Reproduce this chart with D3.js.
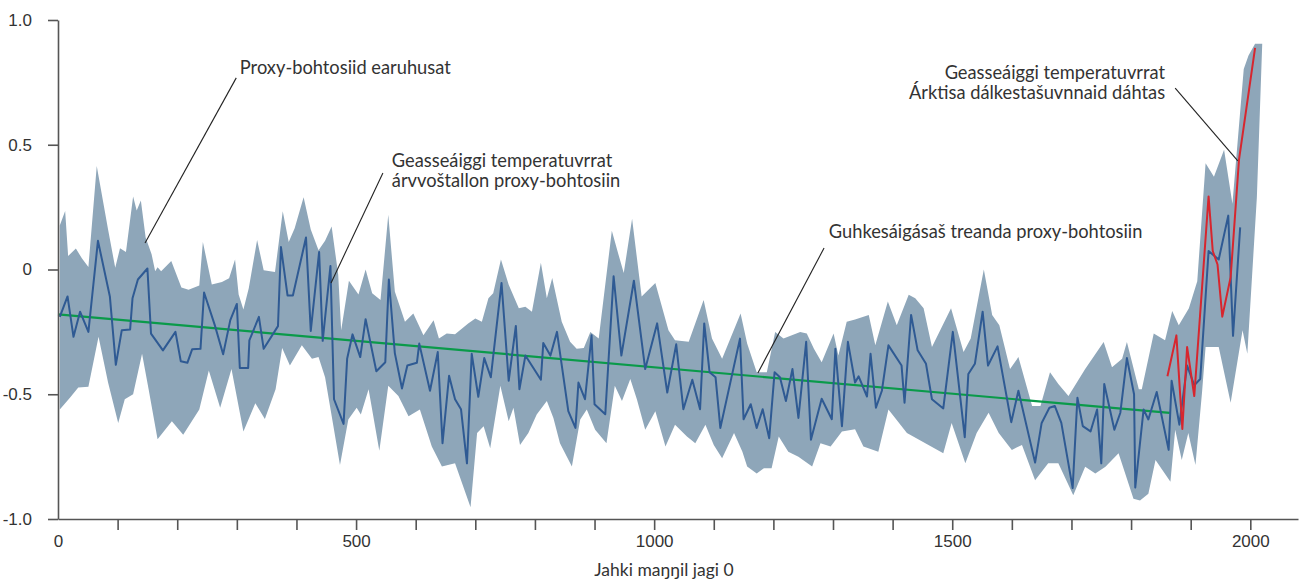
<!DOCTYPE html>
<html>
<head>
<meta charset="utf-8">
<script src="https://cdn.jsdelivr.net/npm/d3@7"></script>
<style>
  body { margin: 0; background: #fff; }
  svg { display: block; font-family: Lato, "Open Sans", sans-serif; }
  .axis text { font-size: 17px; fill: #333; }
  .axis path, .axis line { stroke: #555; stroke-width: 1.6; }
  .note { font-size: 18.3px; fill: #333; }
</style>
</head>
<body>
<svg id="chart" width="1300" height="582"></svg>
<script>
// proxy reconstruction, [year, anomaly]
const proxy = [[3,-0.19],[16,-0.108],[26,-0.27],[37,-0.169],[51,-0.25],[67,0.115],[87,-0.108],[97,-0.382],
  [107,-0.243],[121,-0.24],[125,-0.115],[134,-0.04],[150,0.004],[156,-0.257],[176,-0.324],[197,-0.25],
  [206,-0.368],[217,-0.374],[225,-0.32],[239,-0.318],[245,-0.092],[263,-0.223],[277,-0.34],[289,-0.203],
  [300,-0.138],[305,-0.395],[319,-0.395],[321,-0.284],[337,-0.19],[345,-0.318],[369,-0.227],[374,0.09],
  [385,-0.104],[394,-0.104],[416,0.128],[424,-0.246],[438,0.07],[444,-0.286],[457,0.014],[463,-0.52],
  [479,-0.619],[485,-0.358],[494,-0.26],[507,-0.351],[516,-0.199],[534,-0.408],[549,-0.372],[555,-0.04],
  [565,-0.335],[577,-0.477],[586,-0.385],[602,-0.374],[606,-0.297],[624,-0.486],[637,-0.331],[645,-0.696],
  [656,-0.426],[666,-0.52],[676,-0.56],[686,-0.777],[694,-0.338],[705,-0.51],[715,-0.355],[726,-0.432],
  [744,-0.054],[756,-0.446],[768,-0.226],[774,-0.48],[784,-0.345],[810,-0.442],[814,-0.295],[826,-0.345],
  [837,-0.25],[856,-0.568],[868,-0.635],[873,-0.453],[884,-0.52],[895,-0.264],[900,-0.54],[918,-0.58],
  [932,-0.027],[945,-0.345],[966,-0.045],[985,-0.399],[1005,-0.216],[1022,-0.493],[1037,-0.3],[1049,-0.56],
  [1064,-0.442],[1077,-0.56],[1084,-0.216],[1093,-0.412],[1103,-0.432],[1111,-0.635],[1144,-0.277],[1150,-0.6],
  [1162,-0.54],[1172,-0.635],[1182,-0.56],[1193,-0.676],[1202,-0.412],[1211,-0.432],[1221,-0.527],[1232,-0.399],
  [1242,-0.595],[1255,-0.29],[1263,-0.682],[1281,-0.518],[1298,-0.6],[1304,-0.318],[1315,-0.628],[1325,-0.29],
  [1337,-0.453],[1343,-0.428],[1357,-0.509],[1363,-0.338],[1372,-0.554],[1382,-0.486],[1393,-0.304],[1415,-0.385],
  [1420,-0.534],[1431,-0.182],[1442,-0.324],[1456,-0.378],[1466,-0.52],[1485,-0.557],[1501,-0.25],[1521,-0.672],
  [1527,-0.419],[1538,-0.378],[1551,-0.169],[1560,-0.385],[1576,-0.308],[1599,-0.612],[1611,-0.486],[1639,-0.774],
  [1650,-0.615],[1663,-0.554],[1672,-0.547],[1683,-0.615],[1702,-0.876],[1710,-0.514],[1719,-0.628],[1732,-0.649],
  [1743,-0.561],[1750,-0.777],[1755,-0.459],[1772,-0.642],[1782,-0.574],[1793,-0.355],[1805,-0.5],[1807,-0.874],
  [1821,-0.561],[1829,-0.601],[1843,-0.491],[1863,-0.723],[1868,-0.446],[1881,-0.622],[1894,-0.385],[1906,-0.464],
  [1916,-0.439],[1930,0.074],[1947,0.04],[1963,0.216],[1971,-0.266],[1983,0.169]]

// upper edge of the proxy spread
const bandUpper = [[3,0.176],[12,0.234],[17,0.054],[30,0.084],[40,0.045],[51,0.01],[65,0.415],[84,0.16],
  [96,0.007],[104,0.085],[114,0.07],[126,0.293],[132,0.236],[139,0.277],[147,0.128],[157,0.061],[163,-0.007],
  [167,0.009],[173,-0.007],[190,0.034],[207,-0.072],[219,-0.081],[237,-0.064],[243,0.11],[258,-0.06],
  [275,-0.05],[287,-0.035],[297,0.04],[303,-0.1],[311,-0.16],[320,-0.075],[334,0.118],[345,-0.003],
  [364,-0.01],[377,0.233],[387,0.11],[397,0.165],[412,0.29],[424,0.16],[437,0.077],[448,0.115],[459,0.172],
  [470,-0.02],[475,-0.243],[488,-0.045],[504,-0.1],[516,0.0],[527,-0.095],[541,-0.122],[554,0.219],
  [565,-0.088],[582,-0.209],[596,-0.176],[613,-0.264],[630,-0.203],[639,-0.277],[652,-0.257],[666,-0.26],
  [688,-0.216],[700,-0.196],[711,-0.209],[722,-0.115],[730,-0.095],[743,0.04],[756,-0.061],[773,-0.155],
  [784,-0.149],[795,-0.169],[810,0.027],[820,-0.115],[829,-0.034],[845,-0.209],[859,-0.29],[870,-0.318],
  [882,-0.315],[893,-0.25],[907,-0.277],[929,0.155],[940,0.061],[949,-0.014],[963,0.203],[979,-0.108],
  [1002,-0.054],[1024,-0.243],[1035,-0.284],[1058,-0.29],[1083,-0.122],[1097,-0.277],[1114,-0.358],
  [1145,-0.176],[1156,-0.297],[1172,-0.412],[1189,-0.412],[1203,-0.25],[1217,-0.277],[1231,-0.264],
  [1245,-0.25],[1256,-0.257],[1268,-0.318],[1281,-0.372],[1301,-0.257],[1309,-0.345],[1323,-0.209],
  [1337,-0.2],[1360,-0.182],[1371,-0.304],[1392,-0.128],[1407,-0.223],[1427,-0.101],[1438,-0.115],
  [1452,-0.155],[1466,-0.311],[1498,-0.155],[1519,-0.331],[1531,-0.277],[1553,0.0],[1567,-0.182],
  [1579,-0.223],[1597,-0.399],[1611,-0.351],[1634,-0.547],[1648,-0.547],[1664,-0.412],[1678,-0.459],
  [1695,-0.507],[1723,-0.399],[1754,-0.291],[1768,-0.392],[1785,-0.358],[1793,-0.291],[1813,-0.48],
  [1818,-0.48],[1838,-0.257],[1857,-0.284],[1869,-0.166],[1880,-0.223],[1897,-0.155],[1911,-0.047],
  [1925,0.426],[1939,0.372],[1956,0.48],[1970,0.264],[1989,0.804],[1997,0.858],[2008,0.905],[2016,0.905]]

// lower edge of the proxy spread
const bandLower = [[3,-0.561],[20,-0.514],[34,-0.473],[51,-0.47],[68,-0.27],[84,-0.453],[101,-0.615],
  [112,-0.52],[126,-0.5],[141,-0.338],[152,-0.48],[167,-0.68],[191,-0.608],[210,-0.662],[237,-0.561],
  [253,-0.405],[272,-0.554],[291,-0.399],[311,-0.649],[331,-0.536],[347,-0.599],[365,-0.48],[376,-0.315],
  [389,-0.385],[409,-0.304],[426,-0.358],[437,-0.351],[448,-0.432],[462,-0.628],[473,-0.784],[487,-0.601],
  [501,-0.554],[508,-0.581],[521,-0.48],[539,-0.726],[554,-0.466],[571,-0.507],[588,-0.588],[607,-0.561],
  [627,-0.709],[644,-0.79],[666,-0.777],[692,-0.953],[703,-0.655],[714,-0.628],[725,-0.716],[742,-0.466],
  [756,-0.608],[764,-0.554],[775,-0.703],[789,-0.655],[803,-0.581],[820,-0.527],[831,-0.595],[842,-0.696],
  [862,-0.79],[876,-0.601],[887,-0.561],[901,-0.642],[920,-0.696],[934,-0.466],[946,-0.527],[960,-0.439],
  [971,-0.52],[985,-0.642],[1002,-0.568],[1019,-0.709],[1035,-0.622],[1055,-0.669],[1069,-0.696],
  [1086,-0.622],[1100,-0.703],[1114,-0.757],[1134,-0.655],[1148,-0.73],[1156,-0.79],[1172,-0.818],
  [1184,-0.797],[1197,-0.797],[1209,-0.669],[1225,-0.73],[1242,-0.75],[1265,-0.79],[1279,-0.696],
  [1296,-0.709],[1315,-0.649],[1337,-0.64],[1351,-0.709],[1376,-0.73],[1393,-0.561],[1424,-0.655],
  [1485,-0.736],[1499,-0.615],[1522,-0.777],[1541,-0.655],[1561,-0.574],[1578,-0.655],[1600,-0.723],
  [1617,-0.703],[1639,-0.845],[1661,-0.777],[1678,-0.777],[1703,-0.905],[1723,-0.791],[1740,-0.818],
  [1757,-0.791],[1779,-0.736],[1804,-0.919],[1815,-0.926],[1829,-0.899],[1841,-0.764],[1866,-0.851],
  [1874,-0.642],[1885,-0.764],[1896,-0.655],[1908,-0.784],[1919,-0.493],[1925,-0.311],[1947,-0.311],
  [1967,-0.534],[1987,-0.243],[1995,-0.338],[2011,0.29],[2020,0.905]]

// instrumental record from arctic stations
const stations = [[1861,-0.428],[1876,-0.264],[1886,-0.639],[1894,-0.311],[1906,-0.507],[1930,0.293],
  [1937,0.074],[1945,0.02],[1953,-0.189],[1967,-0.031],[1981,0.439],[2008,0.888]]

// long-term linear trend
const trend = [[0,-0.18],[1865,-0.575]]

const yTicks = [-1, -0.5, 0, 0.5, 1]
const yLabels = ["-1.0", "-0.5", "0", "0.5", "1.0"]
const xTicks = d3.range(0, 2001, 100)
const xLabels = [0, 500, 1000, 1500, 2000]

// annotations: text position and leader line, in data units
const notes = [
  {lines: ["Proxy-bohtosiid earuhusat"], at: [305, 0.784], anchor: "start", from: [299, 0.768], to: [146, 0.106]},
  {lines: ["Geasseáiggi temperatuvrrat", "árvvoštallon proxy-bohtosiin"], at: [560, 0.411], anchor: "start", from: [545, 0.387], to: [458, -0.054]},
  {lines: ["Guhkesáigásaš treanda proxy-bohtosiin"], at: [1293, 0.126], anchor: "start", from: [1285, 0.086], to: [1174, -0.415]},
  {lines: ["Geasseáiggi temperatuvrrat", "Árktisa dálkestašuvnnaid dáhtas"], at: [1857, 0.764], anchor: "end", from: [1874, 0.727], to: [1979, 0.435]}
]

const svg = d3.select("#chart")
const x = d3.scaleLinear().domain([0, 2080]).range([58, 1298])
const y = d3.scaleLinear().domain([-1, 1]).range([519, 20])

const line = d3.line().x(d => x(d[0])).y(d => y(d[1]))

// spread band
let band = bandUpper.concat(bandLower.slice().reverse())
svg.append("path")
  .attr("d", d3.line().x(d => x(d[0])).y(d => y(d[1])).curve(d3.curveLinearClosed)(band))
  .attr("fill", "#8ea6b9")

svg.append("path").datum(trend).attr("d", line)
  .attr("fill", "none").attr("stroke", "#0a9a4a").attr("stroke-width", 2.2)

svg.append("path").datum(proxy).attr("d", line)
  .attr("fill", "none").attr("stroke", "#2f5a93").attr("stroke-width", 2).attr("stroke-linejoin", "round")

svg.append("path").datum(stations).attr("d", line)
  .attr("fill", "none").attr("stroke", "#d7262e").attr("stroke-width", 2).attr("stroke-linejoin", "round")

// axes
let xAxis = svg.append("g").attr("class", "axis").attr("transform", "translate(0,519)")
  .call(d3.axisBottom(x).tickValues(xTicks).tickSize(11).tickSizeOuter(0).tickPadding(5)
    .tickFormat(d => xLabels.includes(d) ? d : ""))
xAxis.selectAll(".tick").filter(d => d === 0).select("line").remove()

svg.append("g").attr("class", "axis").attr("transform", "translate(58,0)")
  .call(d3.axisLeft(y).tickValues(yTicks).tickSize(10).tickSizeOuter(0).tickPadding(16)
    .tickFormat((d, i) => yLabels[i]))

svg.selectAll(".axis .domain").attr("stroke-width", 1.8)

svg.append("text").attr("class", "note")
  .attr("x", 664).attr("y", 576).attr("text-anchor", "middle")
  .style("font-size", "17.5px")
  .text("Jahki maŋŋil jagi 0")

// annotation leaders and labels
notes.forEach(n => {
  svg.append("line")
    .attr("x1", x(n.from[0])).attr("y1", y(n.from[1]))
    .attr("x2", x(n.to[0])).attr("y2", y(n.to[1]))
    .attr("stroke", "#222").attr("stroke-width", 1.1)
  let t = svg.append("text").attr("class", "note").attr("text-anchor", n.anchor)
  n.lines.forEach((s, i) => {
    t.append("tspan").attr("x", x(n.at[0])).attr("y", y(n.at[1]) + i * 20).text(s)
  })
})
</script>
</body>
</html>
